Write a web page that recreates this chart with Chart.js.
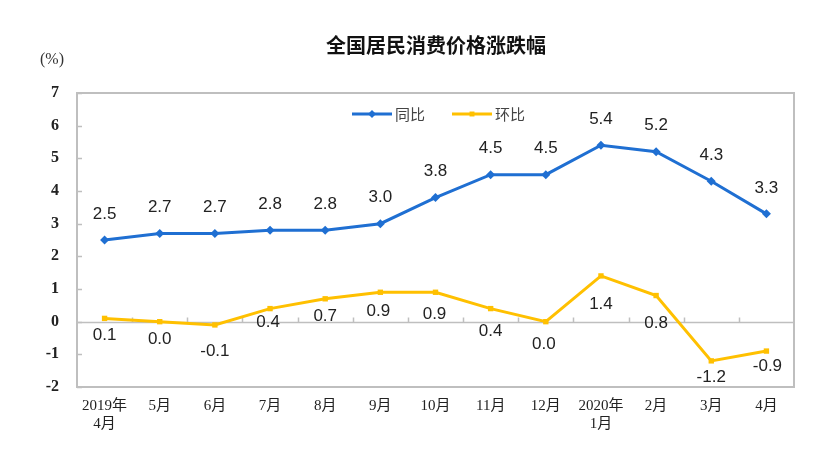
<!DOCTYPE html>
<html><head><meta charset="utf-8">
<script src="https://cdn.jsdelivr.net/npm/chart.js@4/dist/chart.umd.min.js"></script>
<style>html,body{margin:0;padding:0;background:#fff}#wrap{width:820px;height:458px}</style>
</head><body><div id="wrap"><canvas id="c" width="820" height="458"></canvas></div>
<script>
const categories = [["2019年","4月"],"5月","6月","7月","8月","9月","10月","11月","12月",["2020年","1月"],"2月","3月","4月"];
const yoyValues = [2.5,2.7,2.7,2.8,2.8,3.0,3.8,4.5,4.5,5.4,5.2,4.3,3.3];
const momValues = [0.1,0.0,-0.1,0.4,0.7,0.9,0.9,0.4,0.0,1.4,0.8,-1.2,-0.9];
const seriesNames = ["同比","环比"];
const titleText = "全国居民消费价格涨跌幅";
const unitText = "(%)";

// label offsets (style only, in px relative to point)
const yoyOffsets = yoyValues.map(()=>[0,-26]);
const momOffsets = [[0,17],[0,18],[0,26],[-2,14],[0,18],[-2,19],[-1,22],[0,23],[-2,23],[0,28],[0,28],[0,16],[1,15]];

const BLUE = '#1F6FD2', YELLOW = '#FFC000';
const tickFont = {family:"'Liberation Serif','Noto Sans CJK SC',serif", size:15};

const deco = {
  id:'deco',
  beforeDatasetsDraw(chart){
    const {ctx, chartArea:a, scales:{x,y}} = chart;
    ctx.save();
    ctx.strokeStyle='#BFBFBF'; ctx.lineWidth=1.5;
    const z = Math.round(y.getPixelForValue(0))+0.5;
    ctx.beginPath(); ctx.moveTo(a.left,z); ctx.lineTo(a.right,z); ctx.stroke();
    y.ticks.forEach(t=>{
      const p = Math.round(y.getPixelForValue(t.value))+0.5;
      ctx.beginPath(); ctx.moveTo(a.left,p); ctx.lineTo(a.left+5,p); ctx.stroke();
    });
    const n = chart.data.labels.length;
    for(let i=1;i<n;i++){
      const px = Math.round((x.getPixelForValue(i-1)+x.getPixelForValue(i))/2)+0.5;
      ctx.beginPath(); ctx.moveTo(px,z); ctx.lineTo(px,z-5); ctx.stroke();
    }
    ctx.strokeStyle='#BFBFBF'; ctx.lineWidth=2;
    ctx.strokeRect(a.left, a.top, a.right-a.left, a.bottom-a.top);
    ctx.restore();
  },
  afterDraw(chart){
    const {ctx} = chart;
    ctx.save();
    ctx.fillStyle='#111';
    ctx.font="bold 20px 'Noto Sans CJK SC',sans-serif";
    ctx.textAlign='center'; ctx.textBaseline='middle';
    ctx.fillText(titleText, 436, 45);
    ctx.font="16px 'Liberation Serif',serif";
    ctx.fillStyle='#333';
    ctx.fillText(unitText, 52, 60);
    ctx.font="17px 'Liberation Sans',Arial,sans-serif";
    ctx.fillStyle='#222';
    [yoyOffsets, momOffsets].forEach((offs,di)=>{
      const meta = chart.getDatasetMeta(di);
      const vals = chart.data.datasets[di].data;
      meta.data.forEach((pt,i)=>{
        ctx.fillText(vals[i].toFixed(1), pt.x+offs[i][0], pt.y+offs[i][1]);
      });
    });
    const items = [{x:352,c:BLUE,s:'rectRot',t:seriesNames[0]},{x:452,c:YELLOW,s:'rect',t:seriesNames[1]}];
    const ly = 114;
    items.forEach(it=>{
      ctx.strokeStyle=it.c; ctx.lineWidth=3;
      ctx.beginPath(); ctx.moveTo(it.x,ly); ctx.lineTo(it.x+40,ly); ctx.stroke();
      ctx.fillStyle=it.c;
      Chart.helpers.drawPoint(ctx,{pointStyle:it.s,radius:it.s==='rect'?3.5:4,rotation:0,borderWidth:0},it.x+20,ly);
      ctx.fillStyle='#444';
      ctx.font="15px 'Noto Sans CJK SC',sans-serif";
      ctx.textAlign='left';
      ctx.fillText(it.t, it.x+43, ly);
    });
    ctx.restore();
  }
};

new Chart(document.getElementById('c'),{
  type:'line',
  data:{labels:categories,datasets:[
    {label:seriesNames[0],data:yoyValues,borderColor:BLUE,backgroundColor:BLUE,borderWidth:3,pointStyle:'rectRot',pointRadius:4.5,pointBorderWidth:0,tension:0},
    {label:seriesNames[1],data:momValues,borderColor:YELLOW,backgroundColor:YELLOW,borderWidth:3,pointStyle:'rect',pointRadius:3.8,pointBorderWidth:0,tension:0}
  ]},
  options:{
    responsive:false,animation:false,
    layout:{padding:{left:0,right:26,top:93,bottom:0}},
    plugins:{legend:{display:false},title:{display:false},tooltip:{enabled:false}},
    scales:{
      x:{offset:true,grid:{display:false,drawTicks:false},border:{display:false},
         ticks:{color:'#222',font:tickFont,padding:10,maxRotation:0,autoSkip:false},
         afterFit(s){s.height=71;}},
      y:{min:-2,max:7,grid:{display:false,drawTicks:false},border:{display:false},
         ticks:{stepSize:1,color:'#222',font:{family:"'Liberation Serif',serif",size:16,weight:'bold'},padding:18},
         afterFit(s){s.width=77;}}
    }
  },
  plugins:[deco]
});
</script></body></html>
